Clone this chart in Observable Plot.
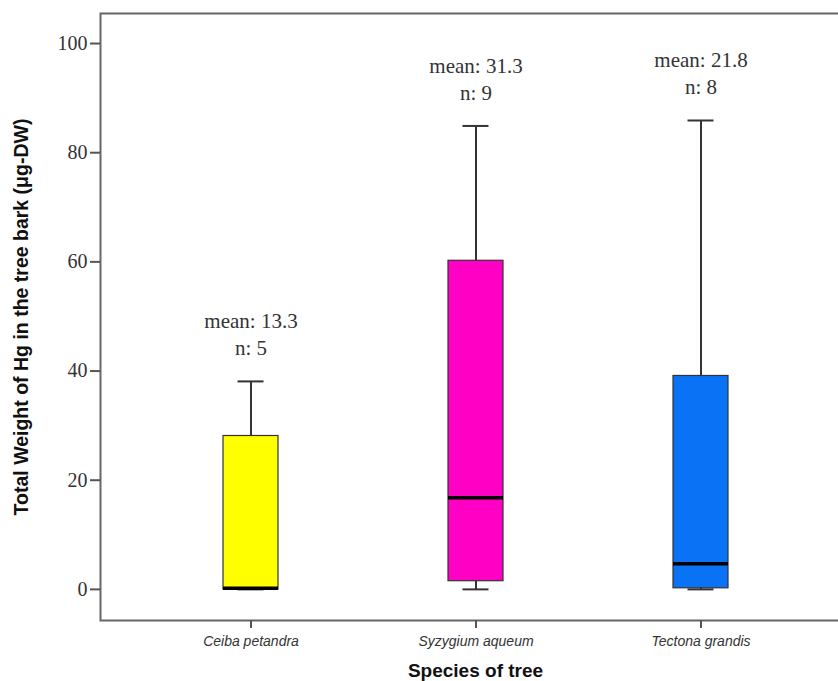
<!DOCTYPE html>
<html>
<head>
<meta charset="utf-8">
<script src="https://cdn.jsdelivr.net/npm/d3@7"></script>
<script src="https://cdn.jsdelivr.net/npm/@observablehq/plot@0.6"></script>
<style>
  html, body { margin: 0; padding: 0; background: #fff; overflow: hidden; }
  svg { overflow: hidden; }
  g[aria-label="y-axis tick label"] text { font-family: "Liberation Serif", serif; font-size: 20px; fill: #333; }
  g[aria-label="x-axis tick label"] text { font-family: "Liberation Sans", Arial, sans-serif; font-size: 14px; font-style: italic; fill: #333; }
  g[aria-label="y-axis label"] text { font-family: "Liberation Sans", Arial, sans-serif; font-size: 19.5px; font-weight: bold; fill: #111; }
  g[aria-label="x-axis label"] text { font-family: "Liberation Sans", Arial, sans-serif; font-size: 19px; font-weight: bold; fill: #111; }
</style>
</head>
<body>
<div id="chart"></div>
<script>
const species = ["Ceiba petandra", "Syzygium aqueum", "Tectona grandis"];
const whiskerLow = [0, 0, 0];
const q1 = [0, 1.5, 0.2];
const median = [0.2, 16.8, 4.7];
const q3 = [28.1, 60.2, 39.1];
const whiskerHigh = [38.1, 84.9, 85.9];
const means = ["13.3", "31.3", "21.8"];
const counts = [5, 9, 8];
const colors = ["#ffff00", "#ff00c4", "#0a72f5"];
const yTicks = [0, 20, 40, 60, 80, 100];

const data = species.map((s, i) => ({
  species: s, lo: whiskerLow[i], q1: q1[i], med: median[i], q3: q3[i], hi: whiskerHigh[i],
  mean: means[i], n: counts[i], color: colors[i]
}));

const plot = Plot.plot({
  width: 838,
  height: 681,
  marginLeft: 100,
  marginRight: -12,
  marginTop: 13,
  marginBottom: 61,
  x: { domain: species, range: [100, 850], paddingInner: 0.7556, paddingOuter: 0.5444, label: null },
  y: { domain: [-5.7, 105.5], label: null },
  marks: [
    Plot.frame({ stroke: "#666", strokeWidth: 2 }),
    Plot.ruleX(data, { x: "species", y1: "lo", y2: "hi", stroke: "#333", strokeWidth: 2 }),
    Plot.tickY(data, { x: "species", y: "hi", stroke: "#333", strokeWidth: 2, inset: 14.5 }),
    Plot.tickY(data, { x: "species", y: "lo", stroke: "#333", strokeWidth: 2, inset: 14.5 }),
    Plot.barY(data, { x: "species", y1: "q1", y2: "q3", fill: "color", stroke: "#333", strokeWidth: 1.2 }),
    Plot.tickY(data, { x: "species", y: "med", stroke: "#000", strokeWidth: 3.5 }),
    Plot.text(data, {
      x: "species", y: "hi",
      text: d => `mean: ${d.mean}\nn: ${d.n}`,
      lineAnchor: "bottom", dy: -26, lineHeight: 1.3,
      fontSize: 21, fontFamily: "Liberation Serif", fill: "#333"
    }),
    Plot.axisY({
      ticks: yTicks, tickSize: 10, tickPadding: 3, stroke: "#555", strokeWidth: 2,
      label: "Total Weight of Hg in the tree bark (μg-DW)", labelAnchor: "center", labelArrow: "none", labelOffset: 86
    }),
    Plot.axisX({
      tickSize: 8, tickPadding: 8, stroke: "#555", strokeWidth: 2,
      label: "Species of tree", labelAnchor: "center", labelArrow: "none", labelOffset: 56
    })
  ]
});
document.getElementById("chart").appendChild(plot);
</script>
</body>
</html>
